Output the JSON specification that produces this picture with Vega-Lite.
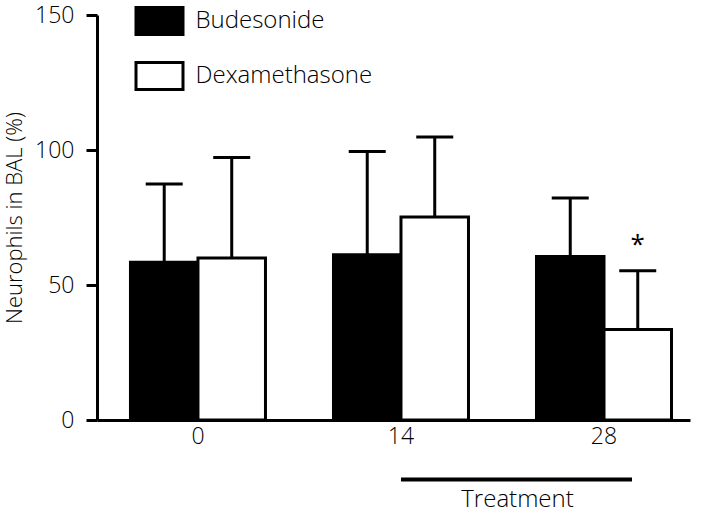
{
  "$schema": "https://vega.github.io/schema/vega-lite/v6.json",
  "autosize": {"type": "none"},
  "padding": {"left": 97, "top": 15, "right": 19, "bottom": 96},
  "width": 593,
  "height": 405,
  "background": "white",
  "config": {
    "font": "Open Sans",
    "view": {"stroke": null},
    "axis": {"grid": false, "domainColor": "black", "tickColor": "black", "labelColor": "black", "titleColor": "black", "labelFont": "Open Sans", "titleFont": "Open Sans", "titleFontWeight": 300, "labelFontWeight": 300}
  },
  "data": {
    "values": [
      {"day": "0", "group": "Budesonide", "mean": 58.4, "upper": 87.4, "sig": ""},
      {"day": "0", "group": "Dexamethasone", "mean": 60.0, "upper": 97.2, "sig": ""},
      {"day": "14", "group": "Budesonide", "mean": 61.2, "upper": 99.4, "sig": ""},
      {"day": "14", "group": "Dexamethasone", "mean": 75.2, "upper": 104.8, "sig": ""},
      {"day": "28", "group": "Budesonide", "mean": 60.6, "upper": 82.2, "sig": ""},
      {"day": "28", "group": "Dexamethasone", "mean": 33.5, "upper": 55.3, "sig": "*"}
    ]
  },
  "encoding": {
    "x": {
      "field": "day", "type": "nominal", "sort": ["0", "14", "28"],
      "scale": {"paddingInner": 0.335, "paddingOuter": 0.128, "align": 0.644},
      "axis": {
        "labelAngle": 0, "ticks": false, "domainWidth": 3, "labelFontSize": 23, "labelPadding": 5,
        "title": "Treatment", "titleFontSize": 24, "titleX": 420, "titleY": 67, "titleBaseline": "top"
      }
    },
    "xOffset": {"field": "group", "type": "nominal", "sort": ["Budesonide", "Dexamethasone"], "scale": {"paddingInner": 0, "paddingOuter": 0}}
  },
  "layer": [
    {
      "mark": {"type": "rule", "strokeWidth": 3, "color": "black"},
      "encoding": {
        "y": {"field": "mean", "type": "quantitative"},
        "y2": {"field": "upper"}
      }
    },
    {
      "mark": {"type": "tick", "thickness": 3, "size": 37, "color": "black", "opacity": 1},
      "encoding": {
        "y": {"field": "upper", "type": "quantitative"}
      }
    },
    {
      "mark": {"type": "bar", "stroke": "black", "strokeWidth": 3, "opacity": 1},
      "encoding": {
        "y": {
          "field": "mean", "type": "quantitative",
          "scale": {"domain": [0, 150], "nice": false},
          "axis": {
            "values": [0, 50, 100, 150], "tickSize": 11, "tickWidth": 3, "domainWidth": 3,
            "labelFontSize": 23, "labelPadding": 12,
            "title": "Neurophils in BAL (%)", "titleFontSize": 22, "titlePadding": 8
          }
        },
        "color": {
          "field": "group", "type": "nominal",
          "scale": {"domain": ["Budesonide", "Dexamethasone"], "range": ["black", "white"]},
          "legend": {
            "orient": "none", "legendX": 37.5, "legendY": -19, "title": null, "padding": 0,
            "symbolType": "M-1,-0.574H1V0.574H-1Z", "symbolSize": 2209,
            "symbolStrokeColor": "black", "symbolStrokeWidth": 3,
            "labelFont": "Open Sans", "labelFontWeight": 300,
            "labelFontSize": 24, "labelColor": "black", "labelOffset": 11, "rowPadding": 10, "labelLimit": 400
          }
        }
      }
    },
    {
      "mark": {"type": "text", "fontSize": 26, "fontWeight": "normal", "dy": -26, "baseline": "middle", "color": "black"},
      "encoding": {
        "y": {"field": "upper", "type": "quantitative"},
        "text": {"field": "sig"}
      }
    },
    {
      "data": {"values": [{"start": "14", "end": "28"}]},
      "mark": {"type": "rule", "strokeWidth": 4, "color": "black", "x2Offset": 28, "clip": false},
      "encoding": {
        "xOffset": null,
        "x": {"field": "start", "type": "nominal"},
        "x2": {"field": "end"},
        "y": {"datum": -22}
      }
    }
  ]
}
